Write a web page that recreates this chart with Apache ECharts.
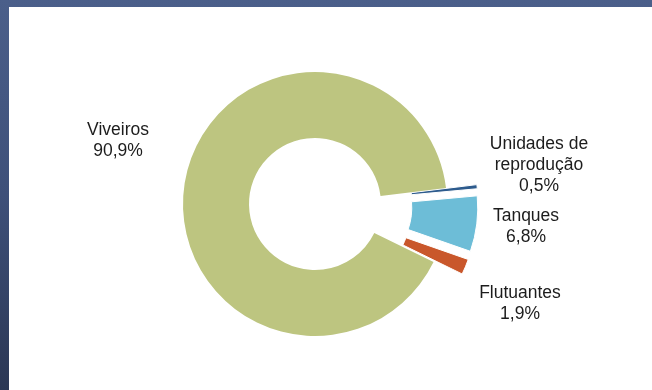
<!DOCTYPE html>
<html>
<head>
<meta charset="utf-8">
<script src="https://cdn.jsdelivr.net/npm/echarts@6/dist/echarts.min.js"></script>
<style>
  html, body { margin: 0; padding: 0; width: 652px; height: 390px; overflow: hidden; }
  body { background: linear-gradient(to bottom, #4b5f8a 0%, #3e5079 50%, #2b3754 100%); position: relative; }
  #panel { position: absolute; left: 9px; top: 7px; right: 0; bottom: 0; background: #ffffff; }
  #chart { position: absolute; left: 0; top: 0; width: 652px; height: 390px; }
</style>
</head>
<body>
<div id="panel"></div>
<div id="chart"></div>
<script>
// Data
const categories = ['Unidades de\nreprodução', 'Tanques', 'Flutuantes', 'Viveiros'];
const values = [0.5, 6.8, 1.9, 90.9];
const valueLabels = ['0,5%', '6,8%', '1,9%', '90,9%'];
const exploded = [true, true, true, false];

// Styles / layout (not data)
const colors = ['#2d5b8d', '#6dbdd7', '#c9572b', '#bdc580'];
const labelPos = [[539, 165], [526, 227], [520, 304], [118, 141]];

const chart = echarts.init(document.getElementById('chart'), null, { renderer: 'canvas' });
chart.setOption({
  backgroundColor: 'transparent',
  animation: false,
  graphic: categories.map((c, i) => ({
    type: 'text',
    x: labelPos[i][0],
    y: labelPos[i][1],
    silent: true,
    style: {
      text: c + '\n' + valueLabels[i],
      fontFamily: '"Liberation Sans", Arial, sans-serif',
      fontSize: 17.5,
      lineHeight: 21,
      fill: '#1c1c1c',
      align: 'center',
      verticalAlign: 'middle'
    }
  })),
  series: [{
    type: 'pie',
    center: [315, 204],
    radius: [66, 132],
    startAngle: 7,
    clockwise: true,
    selectedMode: 'multiple',
    selectedOffset: 31,
    avoidLabelOverlap: false,
    emphasis: { disabled: true },
    labelLine: { show: false },
    label: { show: false },
    data: categories.map((c, i) => ({
      name: c,
      value: values[i],
      selected: exploded[i],
      itemStyle: {
        color: colors[i],
        borderColor: '#ffffff',
        borderWidth: exploded[i] ? 1 : 0
      }
    }))
  }]
});
</script>
</body>
</html>
